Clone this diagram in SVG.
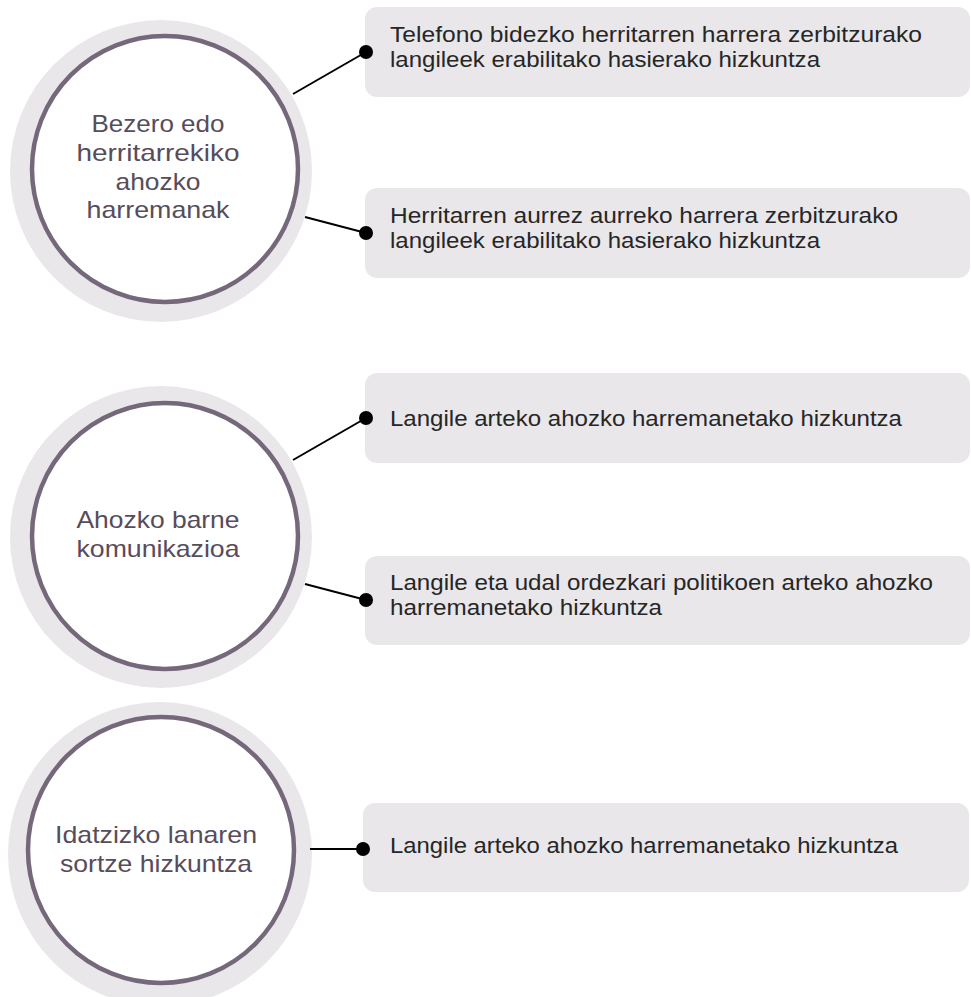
<svg xmlns="http://www.w3.org/2000/svg" width="971" height="997" viewBox="0 0 971 997">
<style>
.halo{fill:#e9e7ea}
.ring{fill:#ffffff;stroke:#76687b;stroke-width:4.5}
.box{fill:#e9e7ea}
.ct{font-family:"Liberation Sans",Arial,sans-serif;font-size:24px;fill:#574c5b;text-anchor:middle}
.bt{font-family:"Liberation Sans",Arial,sans-serif;font-size:22px;fill:#262626}
.conn line{stroke:#000;stroke-width:2}
.conn circle{fill:#000}
</style>
<rect width="971" height="997" fill="#ffffff"/>
<g id="circle1">
<circle class="halo" cx="161" cy="171" r="151"/>
<circle class="ring" cx="165" cy="169" r="133"/>
<text class="ct" x="158" y="132" textLength="133" lengthAdjust="spacingAndGlyphs">Bezero edo</text>
<text class="ct" x="158" y="161" textLength="163" lengthAdjust="spacingAndGlyphs">herritarrekiko</text>
<text class="ct" x="158" y="190" textLength="85" lengthAdjust="spacingAndGlyphs">ahozko</text>
<text class="ct" x="158" y="218" textLength="143" lengthAdjust="spacingAndGlyphs">harremanak</text>
</g>
<g id="circle2">
<circle class="halo" cx="161" cy="537" r="151"/>
<circle class="ring" cx="165" cy="536" r="133"/>
<text class="ct" x="158" y="528" textLength="163" lengthAdjust="spacingAndGlyphs">Ahozko barne</text>
<text class="ct" x="158" y="557" textLength="163" lengthAdjust="spacingAndGlyphs">komunikazioa</text>
</g>
<g id="circle3">
<circle class="halo" cx="160" cy="854" r="152"/>
<circle class="ring" cx="161" cy="850" r="133"/>
<text class="ct" x="156" y="843" textLength="202" lengthAdjust="spacingAndGlyphs">Idatzizko lanaren</text>
<text class="ct" x="156" y="872" textLength="192" lengthAdjust="spacingAndGlyphs">sortze hizkuntza</text>
</g>
<g id="box1">
<rect class="box" x="365" y="7" width="605" height="90" rx="12"/>
<text class="bt" x="390" y="42" textLength="532" lengthAdjust="spacingAndGlyphs">Telefono bidezko herritarren harrera zerbitzurako</text>
<text class="bt" x="390" y="67" textLength="430" lengthAdjust="spacingAndGlyphs">langileek erabilitako hasierako hizkuntza</text>
</g>
<g id="box2">
<rect class="box" x="365" y="188" width="605" height="90" rx="12"/>
<text class="bt" x="390" y="223" textLength="508" lengthAdjust="spacingAndGlyphs">Herritarren aurrez aurreko harrera zerbitzurako</text>
<text class="bt" x="390" y="248" textLength="430" lengthAdjust="spacingAndGlyphs">langileek erabilitako hasierako hizkuntza</text>
</g>
<g id="box3">
<rect class="box" x="365" y="373" width="605" height="90" rx="12"/>
<text class="bt" x="390" y="426" textLength="512" lengthAdjust="spacingAndGlyphs">Langile arteko ahozko harremanetako hizkuntza</text>
</g>
<g id="box4">
<rect class="box" x="365" y="556" width="605" height="89" rx="12"/>
<text class="bt" x="390" y="590" textLength="543" lengthAdjust="spacingAndGlyphs">Langile eta udal ordezkari politikoen arteko ahozko</text>
<text class="bt" x="390" y="615" textLength="272" lengthAdjust="spacingAndGlyphs">harremanetako hizkuntza</text>
</g>
<g id="box5">
<rect class="box" x="363" y="803" width="606" height="89" rx="12"/>
<text class="bt" x="390" y="853" textLength="508" lengthAdjust="spacingAndGlyphs">Langile arteko ahozko harremanetako hizkuntza</text>
</g>
<g id="connectors" class="conn">
<line x1="293" y1="94" x2="366" y2="52"/>
<circle cx="366" cy="52" r="7"/>
<line x1="305" y1="217" x2="366" y2="233"/>
<circle cx="366" cy="233" r="7"/>
<line x1="293" y1="460" x2="366" y2="418"/>
<circle cx="366" cy="418" r="7"/>
<line x1="305" y1="584" x2="366" y2="600"/>
<circle cx="366" cy="600" r="7"/>
<line x1="310" y1="849" x2="363" y2="849"/>
<circle cx="363" cy="849" r="7"/>
</g>
</svg>
